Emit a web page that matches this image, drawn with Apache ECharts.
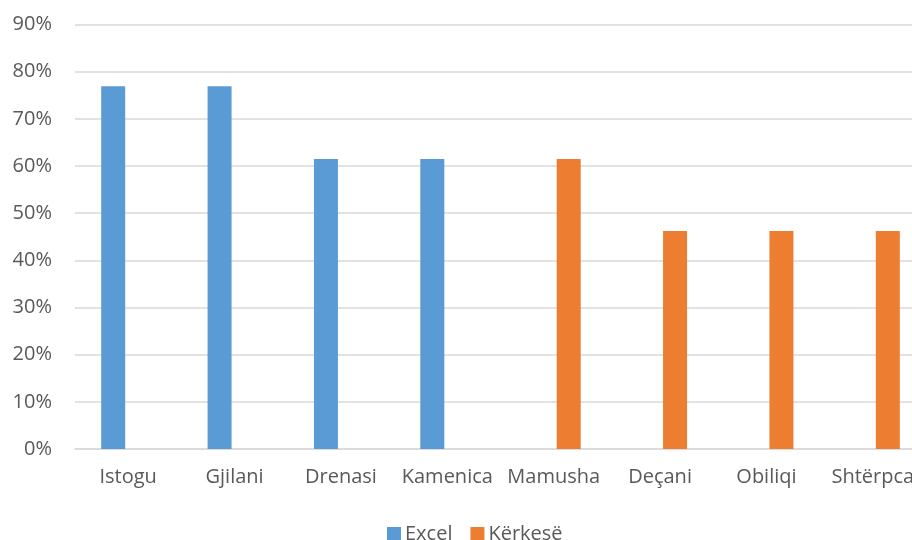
<!DOCTYPE html>
<html><head><meta charset="utf-8">
<script src="https://cdn.jsdelivr.net/npm/echarts@6/dist/echarts.min.js"></script>
<style>html,body{margin:0;padding:0;background:#fff;overflow:hidden;width:912px;height:540px}#c{width:926px;height:540px}</style>
</head><body><div id="c"></div>
<script>
const categories = ['Istogu','Gjilani','Drenasi','Kamenica','Mamusha','Deçani','Obiliqi','Shtërpca'];
const excelValues = [0.769, 0.769, 0.615, 0.615, null, null, null, null];
const kerkeseValues = [null, null, null, null, 0.615, 0.462, 0.462, 0.462];
const seriesNames = ['Excel','Kërkesë'];
const font = '"Open Sans", "Noto Sans", sans-serif';
const chart = echarts.init(document.getElementById('c'), null, {renderer:'canvas'});
chart.setOption({
  animation:false,
  color:['#5B9BD5','#ED7D31'],
  grid:{left:75, right:0, top:24.5, bottom:91, containLabel:false},
  legend:{
    data:seriesNames, left:382, top:519, itemWidth:14, itemHeight:14, itemGap:18,
    icon:'rect',
    textStyle:{color:'#595959', fontSize:20, fontFamily:font, padding:[0,0,0,-1]}
  },
  xAxis:{
    type:'category', data:categories,
    axisLine:{show:true, lineStyle:{color:'#d9d9d9', width:1.5}},
    axisTick:{show:false},
    axisLabel:{color:'#595959', fontSize:20, fontFamily:font, margin:18, interval:0}
  },
  yAxis:{
    type:'value', min:0, max:0.9, interval:0.1,
    axisLine:{show:false}, axisTick:{show:false},
    splitLine:{lineStyle:{color:'#d9d9d9', width:1.5}},
    axisLabel:{color:'#595959', fontSize:20, fontFamily:font, margin:23,
      formatter:v=>Math.round(v*100)+'%'}
  },
  series:[
    {name:seriesNames[0], type:'bar', data:excelValues, barWidth:24, barGap:'25%'},
    {name:seriesNames[1], type:'bar', data:kerkeseValues, barWidth:24, barGap:'25%'}
  ]
});
</script></body></html>
